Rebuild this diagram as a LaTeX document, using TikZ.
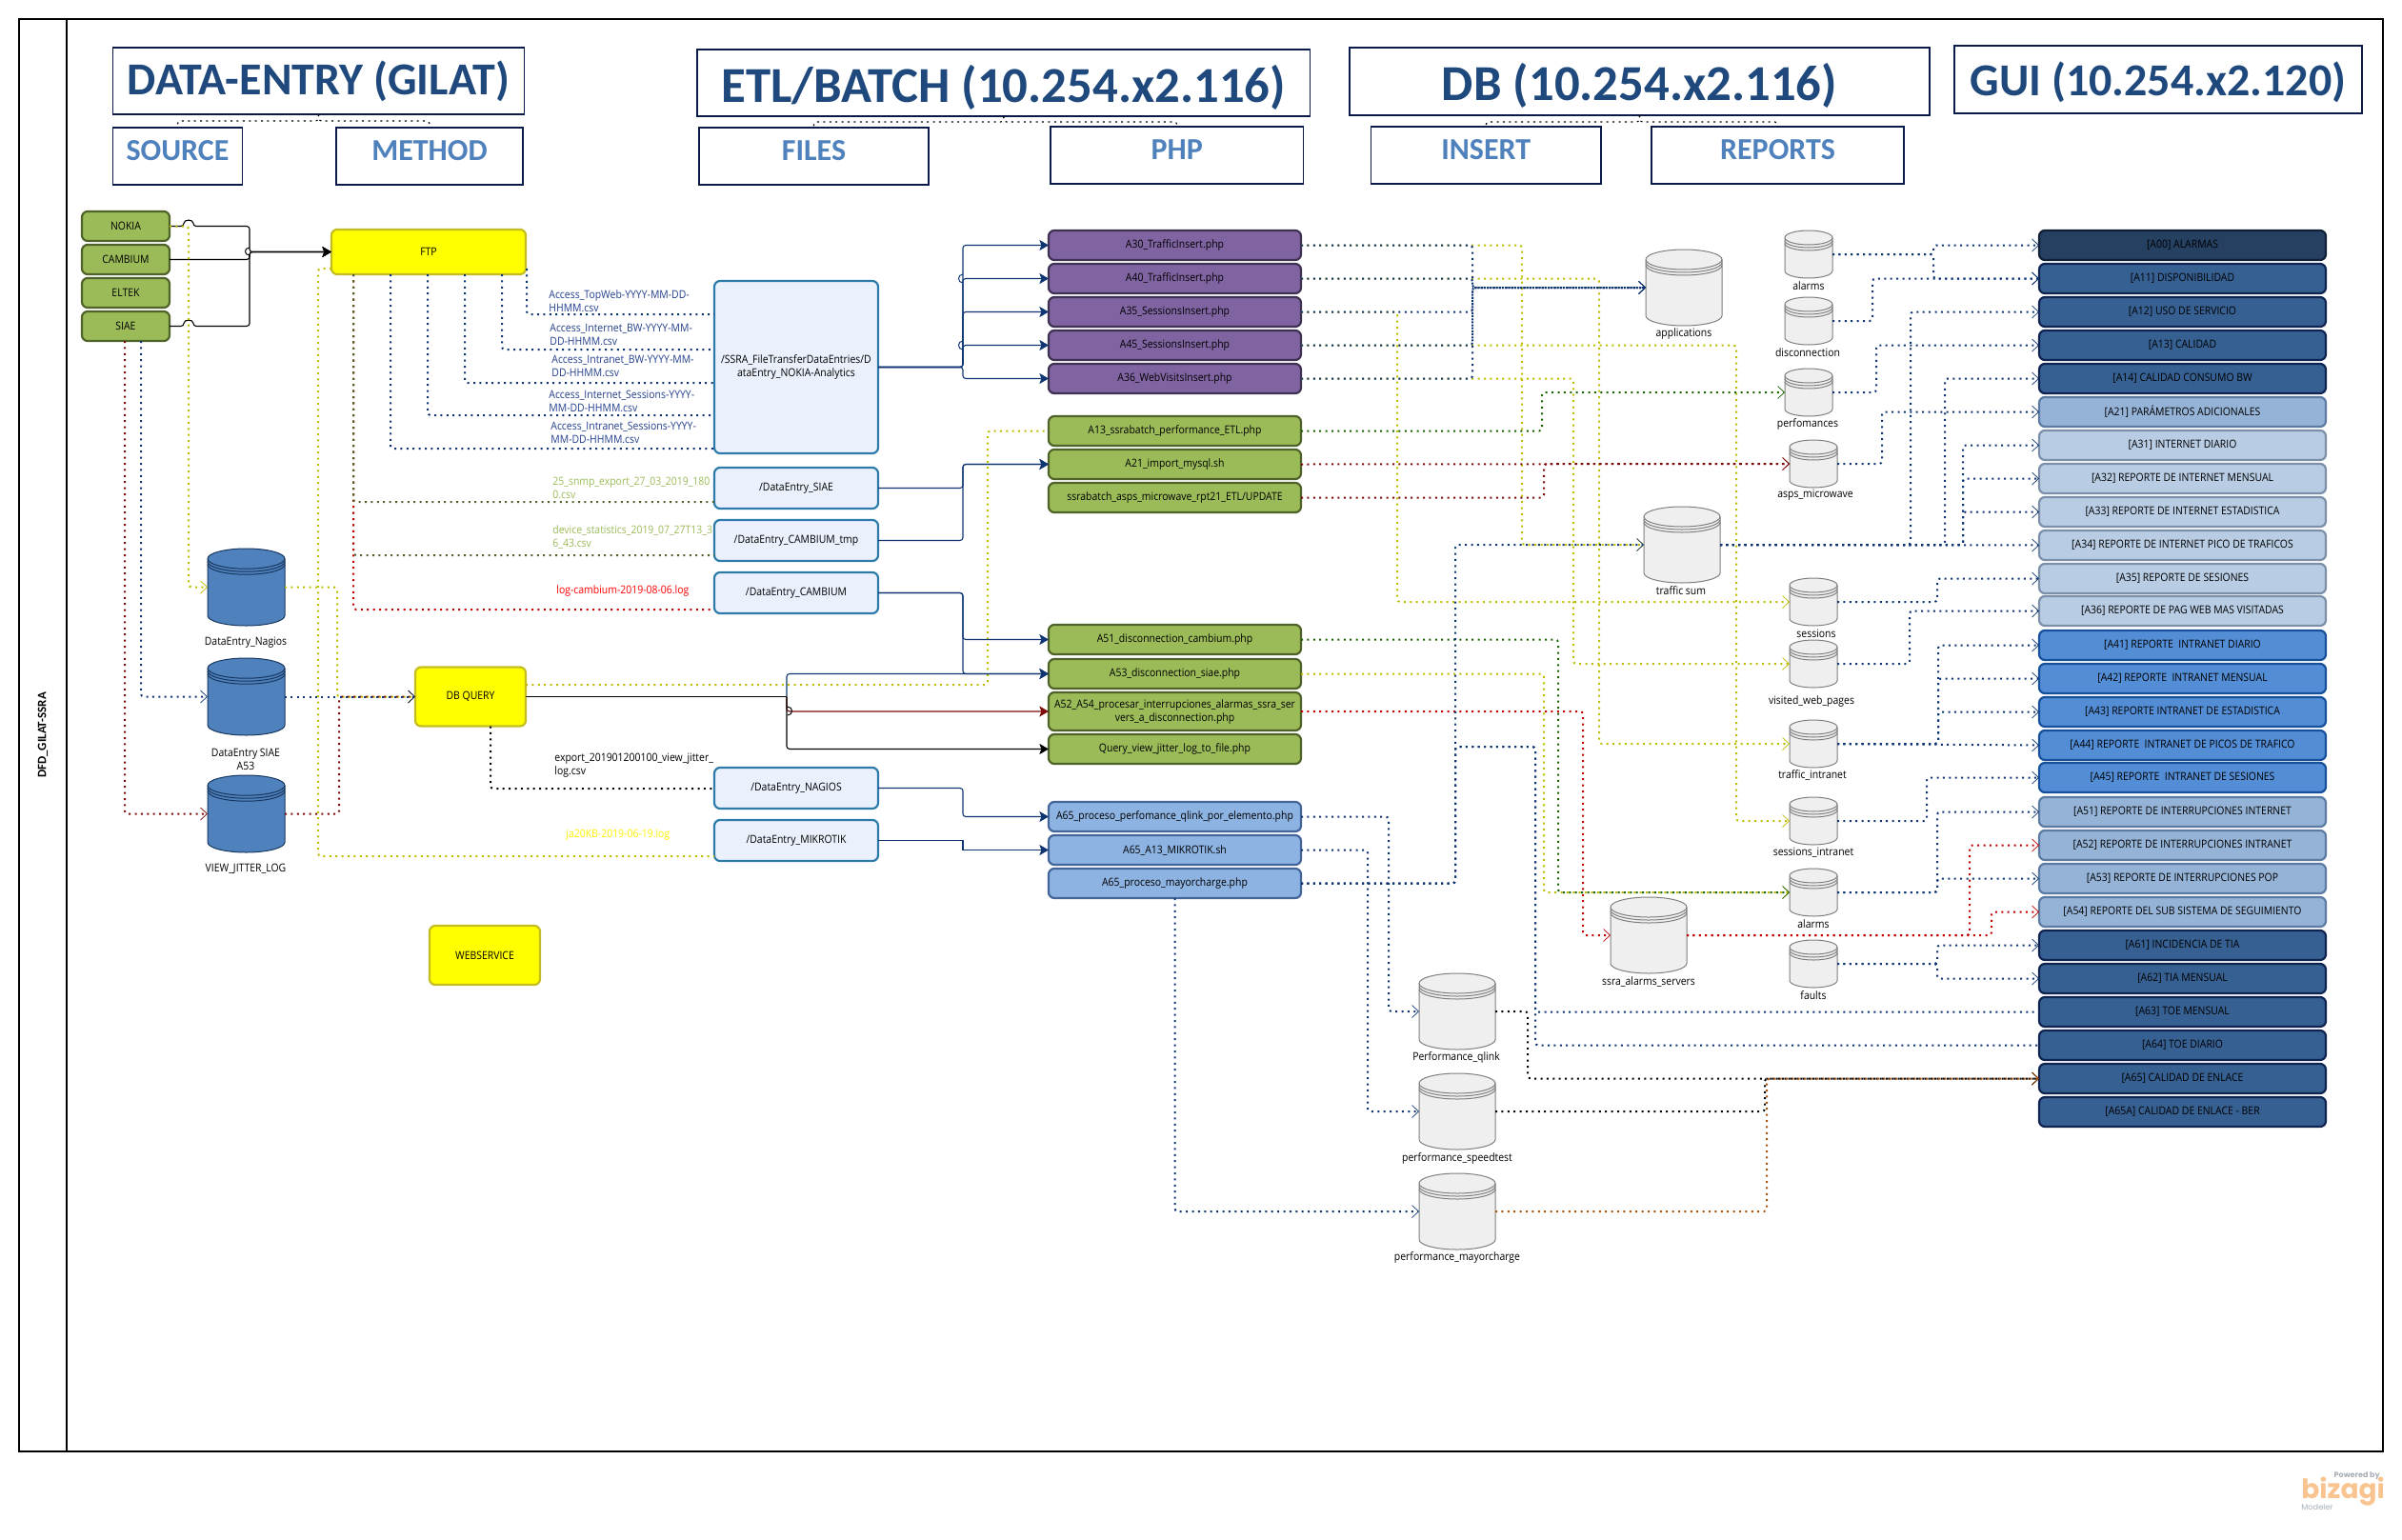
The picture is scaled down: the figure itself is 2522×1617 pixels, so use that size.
\documentclass[tikz,border=0pt]{standalone}
\usepackage{fontspec}
\usetikzlibrary{arrows.meta}
\setmainfont{Open Sans}
\newfontfamily\bfam[FakeStretch=0.9]{Open Sans}
\newfontfamily\hfam{Carlito}
\newfontfamily\lfam{Poppins}
\newcommand\bodyf{\bfam\fontsize{5.8}{7}\selectfont}
\definecolor{cG}{HTML}{9BBB59}\definecolor{cGd}{HTML}{4F6228}
\definecolor{cP}{HTML}{8064A2}\definecolor{cPd}{HTML}{3F3151}
\definecolor{cB}{HTML}{8DB3E2}\definecolor{cBd}{HTML}{44659A}
\definecolor{cFf}{HTML}{EBF0FD}\definecolor{cFd}{HTML}{2C7BA8}
\definecolor{cY}{HTML}{FFFF00}\definecolor{cYd}{HTML}{C4BD22}
\definecolor{cCyl}{HTML}{4F81BD}\definecolor{cCyld}{HTML}{17375E}
\definecolor{cGr}{HTML}{EFEFEF}\definecolor{cGrd}{HTML}{7F7F7F}
\definecolor{cNv}{HTML}{0F3672}\definecolor{cYl}{HTML}{BDBD00}
\definecolor{cDg}{HTML}{1A6100}\definecolor{cDr}{HTML}{7F0A0A}
\definecolor{cRd}{HTML}{C00000}\definecolor{cBr}{HTML}{A85208}
\definecolor{cOl}{HTML}{4F6228}
\definecolor{g0}{HTML}{254061}\definecolor{g0d}{HTML}{0F1F36}
\definecolor{g1}{HTML}{366092}\definecolor{g1d}{HTML}{0F2350}
\definecolor{g2}{HTML}{95B3D7}\definecolor{g2d}{HTML}{5C7BA3}
\definecolor{g3}{HTML}{B8CCE4}\definecolor{g3d}{HTML}{7B8FA8}
\definecolor{g4}{HTML}{538DD5}\definecolor{g4d}{HTML}{17509A}
\definecolor{cH}{HTML}{1F497D}\definecolor{cS}{HTML}{4F81BD}
\definecolor{cHd}{HTML}{0A1A4A}\definecolor{cTx}{HTML}{24408E}
\definecolor{cLo}{HTML}{F9C48F}\definecolor{cLg}{HTML}{A6AEB6}
\tikzset{
 basebox/.style={draw,rounded corners=3pt,line width=1.1pt,inner sep=0pt,outer sep=0pt,align=center,font=\bodyf,text=black},
 greenbox/.style={basebox,fill=cG,draw=cGd},
 purplebox/.style={basebox,fill=cP,draw=cPd},
 bluebox/.style={basebox,fill=cB,draw=cBd},
 filebox/.style={basebox,fill=cFf,draw=cFd},
 yellowbox/.style={basebox,fill=cY,draw=cYd},
 gzero/.style={basebox,fill=g0,draw=g0d},
 gone/.style={basebox,fill=g1,draw=g1d},
 gtwo/.style={basebox,fill=g2,draw=g2d},
 gthree/.style={basebox,fill=g3,draw=g3d},
 gfour/.style={basebox,fill=g4,draw=g4d},
 headbox/.style={draw=cHd,line width=.6pt,inner sep=0pt,outer sep=0pt,align=center,text=cH,font=\hfam\bfseries\fontsize{24}{26}\selectfont},
 bighead/.style={headbox,text height=24pt,font=\hfam\bfseries\fontsize{26.4}{28}\selectfont},
 subbox/.style={draw=cHd,line width=.6pt,inner sep=0pt,outer sep=0pt,align=center,text=cS,text depth=6pt,font=\hfam\bfseries\fontsize{16}{18}\selectfont},
 cylnode/.style={inner sep=0pt,outer sep=0pt},
 bluecyl/.style={fill=cCyl,draw=cCyld,line width=.5pt},
 graycyl/.style={fill=cGr,draw=cGrd,line width=.5pt},
 lbl/.style={font=\bodyf,align=center,inner sep=0pt},
 flbl/.style={font=\bodyf,align=left,anchor=west,inner sep=0pt},
 dotl/.style={line width=1pt,dash pattern=on 1pt off 2.2pt,rounded corners=1.5pt},
 dnv/.style={dotl,draw=cNv},
 dye/.style={dotl,draw=cYl},
 ddg/.style={dotl,draw=cDg},
 ddr/.style={dotl,draw=cDr},
 drd/.style={dotl,draw=cRd},
 dbk/.style={dotl,draw=black},
 dbr/.style={dotl,draw=cBr},
 dol/.style={dotl,draw=cOl},
 chev/.style={-{Straight Barb[length=3.5pt,width=6.5pt,line width=.35pt]}},
 solidnv/.style={draw=cNv,line width=.55pt,rounded corners=1.5pt},
 solidbk/.style={draw=black,line width=.55pt,rounded corners=1.5pt},
 solidrd/.style={draw=cDr,line width=.55pt,rounded corners=1.5pt},
 stl/.style={-{Stealth[length=4.8pt,width=5.5pt,inset=1pt]}},
 via/.style={to path={-- (#1,0 |- \tikztostart) -- (#1,0 |- \tikztotarget) \tikztonodes -- (\tikztotarget)}},
}
\newcommand\bx[7]{%
 \pgfmathsetmacro\bw{(#5-#3)*0.5}\pgfmathsetmacro\bh{(#6-#4)*0.5}%
 \pgfmathsetmacro\bcx{(#3+#5)/2}\pgfmathsetmacro\bcy{(#4+#6)/2}%
 \node[#2,minimum width=\bw pt,minimum height=\bh pt] (#1) at (\bcx,\bcy) {#7};}
\newcommand\cyl[9]{%
 \pgfmathsetmacro\cxx{(#3+#5)/2}\pgfmathsetmacro\cyy{(#4+#6)/2}%
 \pgfmathsetmacro\ryy{(#6-#4)*0.1+2.5}\pgfmathsetmacro\kxx{0.5523*(#5-#3)/2}%
 \pgfmathsetmacro\kyy{0.5523*\ryy}\pgfmathsetmacro\ytt{#4+\ryy}\pgfmathsetmacro\ybb{#6-\ryy}%
 \pgfmathsetmacro\bw{(#5-#3)*0.5}\pgfmathsetmacro\bh{(#6-#4)*0.5}%
 \node[cylnode,minimum width=\bw pt,minimum height=\bh pt] (#1) at (\cxx,\cyy) {};
 \draw[#2] (#3,\ytt) .. controls (#3,{\ytt-\kyy}) and ({\cxx-\kxx},#4) .. (\cxx,#4)
   .. controls ({\cxx+\kxx},#4) and (#5,{\ytt-\kyy}) .. (#5,\ytt) -- (#5,\ybb)
   .. controls (#5,{\ybb+\kyy}) and ({\cxx+\kxx},#6) .. (\cxx,#6)
   .. controls ({\cxx-\kxx},#6) and (#3,{\ybb+\kyy}) .. (#3,\ybb) -- cycle;
 \foreach \dd in {0,3,6}{
 \draw[#2,fill=none] (#3,{\ytt+\dd}) .. controls (#3,{\ytt+\dd+\kyy}) and ({\cxx-\kxx},{\ytt+\ryy+\dd}) .. (\cxx,{\ytt+\ryy+\dd})
   .. controls ({\cxx+\kxx},{\ytt+\ryy+\dd}) and (#5,{\ytt+\dd+\kyy}) .. (#5,{\ytt+\dd});}
 \node[lbl] (#1l) at (#7,#8) {#9};}
\begin{document}
\begin{tikzpicture}[x=0.5pt,y=-0.5pt]
\useasboundingbox (0,0) rectangle (2522,1617);
\fill[white] (0,0) rectangle (2522,1617);
% frame
\coordinate (fa) at (20,20); \coordinate (fb) at (2502,1524);
\draw[line width=.8pt] (fa) rectangle (fb);
\draw[line width=.8pt] (70,20) -- (70,1524);
\node[rotate=90,font=\hfam\bfseries\fontsize{6.5}{7}\selectfont,inner sep=0pt] (pool) at (45,772) {DFD\_GILAT-SSRA};
% headers
\bx{hDE}{headbox}{118.5}{50}{550.5}{120}{DATA-ENTRY (GILAT)}
\bx{hSO}{subbox}{118.5}{134}{254.5}{194}{SOURCE}
\bx{hME}{subbox}{353}{134}{549}{194}{METHOD}
\bx{hET}{bighead}{732}{52}{1375.5}{122}{ETL/BATCH (10.254.x2.116)}
\bx{hFI}{subbox}{734}{134}{975}{194}{FILES}
\bx{hPH}{subbox}{1103}{133}{1368.5}{193}{PHP}
\bx{hDB}{bighead}{1417}{50}{2026}{121}{DB (10.254.x2.116)}
\bx{hIN}{subbox}{1439.5}{133}{1681}{193}{INSERT}
\bx{hRE}{subbox}{1734}{133}{1999}{193}{REPORTS}
\bx{hGU}{headbox,text height=21pt}{2052}{48}{2480}{119}{GUI (10.254.x2.120)}
\foreach \hh in {hDE,hSO,hME,hET,hFI,hPH,hDB,hIN,hRE,hGU}{\draw[line width=.9pt,cHd] (\hh.north west) -- (\hh.north east);}
\draw[dbk,line width=.6pt] (hDE.south) -- (hDE.south |- 0,127) -- (hSO.north |- 0,127) -- (hSO.north);
\draw[dbk,line width=.6pt] (hDE.south) -- (hDE.south |- 0,127) -- (hME.north |- 0,127) -- (hME.north);
\draw[dbk,line width=.6pt] (hET.south) -- (hET.south |- 0,128) -- (hFI.north |- 0,128) -- (hFI.north);
\draw[dbk,line width=.6pt] (hET.south) -- (hET.south |- 0,128) -- (hPH.north |- 0,128) -- (hPH.north);
\draw[dbk,line width=.6pt] (hDB.south) -- (hDB.south |- 0,128) -- (hIN.north |- 0,128) -- (hIN.north);
\draw[dbk,line width=.6pt] (hDB.south) -- (hDB.south |- 0,128) -- (hRE.north |- 0,128) -- (hRE.north);
% sources
\bx{NOKIA}{greenbox}{86}{222}{178}{253}{NOKIA}
\bx{CAMB}{greenbox}{86}{257}{178}{288}{CAMBIUM}
\bx{ELTEK}{greenbox}{86}{292}{178}{323}{ELTEK}
\bx{SIAE}{greenbox}{86}{327}{178}{358}{SIAE}
\bx{FTP}{yellowbox}{348}{241}{552}{288}{FTP}
\bx{DBQ}{yellowbox}{436}{700.5}{552}{762.5}{DB QUERY}
\bx{WEB}{yellowbox}{451}{972}{567}{1034}{WEBSERVICE}
% files
\bx{fNOK}{filebox}{750}{295}{922}{476}{/SSRA\_FileTransferDataEntries/D\\ataEntry\_NOKIA-Analytics}
\bx{fSIA}{filebox}{750}{491}{922}{534}{/DataEntry\_SIAE}
\bx{fCTM}{filebox}{750}{546}{922}{589}{/DataEntry\_CAMBIUM\_tmp}
\bx{fCAM}{filebox}{750}{601}{922}{644}{/DataEntry\_CAMBIUM}
\bx{fNAG}{filebox}{750}{806}{922}{849}{/DataEntry\_NAGIOS}
\bx{fMIK}{filebox}{750}{861}{922}{904}{/DataEntry\_MIKROTIK}
% php
\bx{A30}{purplebox}{1101}{242}{1366}{273}{A30\_TrafficInsert.php}
\bx{A40}{purplebox}{1101}{277}{1366}{308}{A40\_TrafficInsert.php}
\bx{A35}{purplebox}{1101}{312}{1366}{343}{A35\_SessionsInsert.php}
\bx{A45}{purplebox}{1101}{347}{1366}{378}{A45\_SessionsInsert.php}
\bx{A36}{purplebox}{1101}{382}{1366}{413}{A36\_WebVisitsInsert.php}
\bx{A13}{greenbox}{1101}{437}{1366}{468}{A13\_ssrabatch\_performance\_ETL.php}
\bx{A21}{greenbox}{1101}{472}{1366}{503}{A21\_import\_mysql.sh}
\bx{ASP}{greenbox}{1101}{507}{1366}{538}{ssrabatch\_asps\_microwave\_rpt21\_ETL/UPDATE}
\bx{A51}{greenbox}{1101}{656}{1366}{687}{A51\_disconnection\_cambium.php}
\bx{A53}{greenbox}{1101}{692}{1366}{723}{A53\_disconnection\_siae.php}
\bx{A52}{greenbox}{1101}{727}{1366}{767}{A52\_A54\_procesar\_interrupciones\_alarmas\_ssra\_ser\\vers\_a\_disconnection.php}
\bx{QRY}{greenbox}{1101}{771}{1366}{802}{Query\_view\_jitter\_log\_to\_file.php}
\bx{A65q}{bluebox}{1101}{842}{1366}{873}{A65\_proceso\_perfomance\_qlink\_por\_elemento.php}
\bx{A65k}{bluebox}{1101}{877}{1366}{908}{A65\_A13\_MIKROTIK.sh}
\bx{A65m}{bluebox}{1101}{912}{1366}{943}{A65\_proceso\_mayorcharge.php}
% gui
\bx{G00}{gzero}{2141}{242}{2442}{273}{[A00] ALARMAS}
\bx{G11}{gone}{2141}{277}{2442}{308}{[A11] DISPONIBILIDAD}
\bx{G12}{gone}{2141}{312}{2442}{343}{[A12] USO DE SERVICIO}
\bx{G13}{gone}{2141}{347}{2442}{378}{[A13] CALIDAD}
\bx{G14}{gone}{2141}{382}{2442}{413}{[A14] CALIDAD CONSUMO BW}
\bx{G21}{gtwo}{2141}{417}{2442}{448}{[A21] PARÁMETROS ADICIONALES}
\bx{G31}{gthree}{2141}{452}{2442}{483}{[A31] INTERNET DIARIO}
\bx{G32}{gthree}{2141}{487}{2442}{518}{[A32] REPORTE DE INTERNET MENSUAL}
\bx{G33}{gthree}{2141}{522}{2442}{553}{[A33] REPORTE DE INTERNET ESTADISTICA}
\bx{G34}{gthree}{2141}{557}{2442}{588}{[A34] REPORTE DE INTERNET PICO DE TRAFICOS}
\bx{G35}{gthree}{2141}{592}{2442}{623}{[A35] REPORTE DE SESIONES}
\bx{G36}{gthree}{2141}{626}{2442}{657}{[A36] REPORTE DE PAG WEB MAS VISITADAS}
\bx{G41}{gfour}{2141}{662}{2442}{693}{[A41] REPORTE\ \ INTRANET DIARIO}
\bx{G42}{gfour}{2141}{697}{2442}{728}{[A42] REPORTE\ \ INTRANET MENSUAL}
\bx{G43}{gfour}{2141}{732}{2442}{763}{[A43] REPORTE INTRANET DE ESTADISTICA}
\bx{G44}{gfour}{2141}{767}{2442}{798}{[A44] REPORTE\ \ INTRANET DE PICOS DE TRAFICO}
\bx{G45}{gfour}{2141}{801}{2442}{832}{[A45] REPORTE\ \ INTRANET DE SESIONES}
\bx{G51}{gtwo}{2141}{837}{2442}{868}{[A51] REPORTE DE INTERRUPCIONES INTERNET}
\bx{G52}{gtwo}{2141}{872}{2442}{903}{[A52] REPORTE DE INTERRUPCIONES INTRANET}
\bx{G53}{gtwo}{2141}{907}{2442}{938}{[A53] REPORTE DE INTERRUPCIONES POP}
\bx{G54}{gtwo}{2141}{942}{2442}{973}{[A54] REPORTE DEL SUB SISTEMA DE SEGUIMIENTO}
\bx{G61}{gone}{2141}{977}{2442}{1008}{[A61] INCIDENCIA DE TIA}
\bx{G62}{gone}{2141}{1012}{2442}{1043}{[A62] TIA MENSUAL}
\bx{G63}{gone}{2141}{1047}{2442}{1078}{[A63] TOE MENSUAL}
\bx{G64}{gone}{2141}{1082}{2442}{1113}{[A64] TOE DIARIO}
\bx{G65}{gone}{2141}{1117}{2442}{1148}{[A65] CALIDAD DE ENLACE}
\bx{G65A}{gone}{2141}{1152}{2442}{1183}{[A65A] CALIDAD DE ENLACE - BER}
% cylinders
\cyl{cNag}{bluecyl}{218}{576}{299}{657}{258}{675}{DataEntry\_Nagios}
\cyl{cSia}{bluecyl}{218}{691}{299}{772}{258}{797}{DataEntry SIAE\\A53}
\cyl{cVie}{bluecyl}{218}{814}{299}{895}{258}{912}{VIEW\_JITTER\_LOG}
\cyl{app}{graycyl}{1728}{262}{1808}{342}{1768}{350}{applications}
\cyl{alm}{graycyl}{1874}{242}{1924}{292}{1899}{300}{alarms}
\cyl{dis}{graycyl}{1874}{312}{1924}{362}{1898}{370}{disconnection}
\cyl{per}{graycyl}{1874}{387}{1924}{437}{1898}{445}{perfomances}
\cyl{asp}{graycyl}{1879}{462}{1929}{512}{1906}{520}{asps\_microwave}
\cyl{tsum}{graycyl}{1726}{532}{1806}{612}{1765}{620}{traffic sum}
\cyl{ses}{graycyl}{1879}{607}{1929}{657}{1907}{665}{sessions}
\cyl{vis}{graycyl}{1879}{672}{1929}{722}{1902}{736}{visited\_web\_pages}
\cyl{tin}{graycyl}{1879}{756}{1929}{806}{1903}{814}{traffic\_intranet}
\cyl{sin}{graycyl}{1879}{837}{1929}{887}{1904}{895}{sessions\_intranet}
\cyl{al2}{graycyl}{1879}{912}{1929}{962}{1904}{970}{alarms}
\cyl{fau}{graycyl}{1879}{987}{1929}{1037}{1904}{1045}{faults}
\cyl{sal}{graycyl}{1691}{942}{1771}{1022}{1731}{1031}{ssra\_alarms\_servers}
\cyl{pql}{graycyl}{1490}{1022}{1570}{1102}{1529}{1110}{Performance\_qlink}
\cyl{psp}{graycyl}{1490}{1127}{1570}{1207}{1530}{1216}{performance\_speedtest}
\cyl{pma}{graycyl}{1490}{1232}{1570}{1312}{1530}{1320}{performance\_mayorcharge}
% edge texts
\node[flbl,text=cTx] (t1) at (576,316) {Access\_TopWeb-YYYY-MM-DD-\\HHMM.csv};
\node[flbl,text=cTx] (t2) at (577,351) {Access\_Internet\_BW-YYYY-MM-\\DD-HHMM.csv};
\node[flbl,text=cTx] (t3) at (579,384) {Access\_Intranet\_BW-YYYY-MM-\\DD-HHMM.csv};
\node[flbl,text=cTx] (t4) at (576,421) {Access\_Internet\_Sessions-YYYY-\\MM-DD-HHMM.csv};
\node[flbl,text=cTx] (t5) at (578,454) {Access\_Intranet\_Sessions-YYYY-\\MM-DD-HHMM.csv};
\node[flbl,text=cG] (t6) at (580,512) {25\_snmp\_export\_27\_03\_2019\_180\\0.csv};
\node[flbl,text=cG] (t7) at (580,564) {device\_statistics\_2019\_07\_27T13\_3\\6\_43.csv};
\node[flbl,text=red] (t8) at (584,620) {log-cambium-2019-08-06.log};
\node[flbl,text=black] (t9) at (582,804) {export\_201901200100\_view\_jitter\_\\log.csv};
\node[flbl,text=yellow] (t10) at (594,876) {ja20KB-2019-06-19.log};
% solid source connectors
\draw[solidbk,stl] (NOKIA.east) -- (193,237.5) .. controls (193,230) and (203,230) .. (203,237.5) -- (262,237.5) -- (262,264.5) -- (FTP.west);
\draw[solidbk,stl] (SIAE.east) -- (193,342.5) .. controls (193,335) and (203,335) .. (203,342.5) -- (262,342.5) -- (262,264.5) -- (FTP.west);
\draw[solidbk,stl] (CAMB.east) -- (262,272.5) -- (262,264.5) -- (FTP.west);
\draw[solidbk,line width=.5pt] (262,260) .. controls (256,260) and (256,268) .. (262,268);
% left dotted
\draw[dye,chev] (NOKIA.east) to[via=198] (cNag.west);
\draw[dnv,chev] (148,0 |- SIAE.south) -- (148,0 |- cSia.west) -- (cSia.west);
\draw[ddr,chev] (131,0 |- SIAE.south) -- (131,0 |- cVie.west) -- (cVie.west);
\draw[dye,chev] (cNag.east) to[via=354] (DBQ.west);
\draw[ddr,chev] (cVie.east) to[via=356] (DBQ.west);
\draw[dnv,chev] (cSia.east) -- (DBQ.west);
\draw[dye] (FTP.west |- 0,282) -- (334,282) -- (334,899) -- (fMIK.west |- 0,899);
\draw[dbk] (515,0 |- DBQ.south) -- (515,828) -- (fNAG.west |- 0,828);
% FTP to files
\draw[dnv] (553,282) -- (553,330) -- (fNOK.west |- 0,330);
\draw[dnv] (527,0 |- FTP.south) -- (527,367) -- (fNOK.west |- 0,367);
\draw[dnv] (488,0 |- FTP.south) -- (488,402) -- (fNOK.west |- 0,402);
\draw[dnv] (449,0 |- FTP.south) -- (449,436) -- (fNOK.west |- 0,436);
\draw[dnv] (410,0 |- FTP.south) -- (410,471) -- (fNOK.west |- 0,471);
\draw[dol] (371,0 |- FTP.south) -- (371,583) -- (fCTM.west |- 0,583);
\draw[drd] (371,0 |- FTP.south) -- (371,640) -- (fCAM.west |- 0,640);
\draw[dol] (371,0 |- FTP.south) -- (371,527) -- (fSIA.west |- 0,527);
% DB query right
\draw[dye] (DBQ.east |- 0,719) -- (1037,719) -- (1037,0 |- A13.west) -- (A13.west);
\draw[solidbk] (DBQ.east) -- (826,0 |- DBQ.east);
\draw[solidnv,stl] (826,0 |- DBQ.east) -- (826,0 |- A53.west) -- (A53.west);
\draw[solidrd,stl] (826,0 |- DBQ.east) -- (826,0 |- A52.west) -- (A52.west);
\draw[solidbk,stl] (826,0 |- DBQ.east) -- (826,0 |- QRY.west) -- (QRY.west);
\draw[solidbk,line width=.5pt] (827,742) .. controls (833,742) and (833,751) .. (827,751);
% files to php
\foreach \tt in {A30,A40,A35,A45,A36}{\draw[solidnv,stl] (fNOK.east) to[via=1011] (\tt.west);}
\draw[solidnv,line width=.5pt] (1011,297) .. controls (1005,297) and (1005,288) .. (1011,288);
\draw[solidnv,line width=.5pt] (1011,367) .. controls (1005,367) and (1005,358) .. (1011,358);
\draw[solidnv,stl] (fSIA.east) to[via=1011] (A21.west);
\draw[solidnv,stl] (fCTM.east) to[via=1011] (A21.west);
\draw[solidnv,stl] (fCAM.east) to[via=1011] (A51.west);
\draw[solidnv,stl] (fCAM.east) to[via=1011] (A53.west);
\draw[solidnv,stl] (fNAG.east) to[via=1011] (A65q.west);
\draw[solidnv,stl,rounded corners=0pt] (fMIK.east) to[via=1011] (A65k.west);
% php to db: yellow first
\draw[dye,chev] (A30.east) to[via=1598] (tsum.west);
\draw[dye,chev] (A40.east) to[via=1679] (tin.west);
\draw[dye,chev] (A35.east) to[via=1467] (ses.west);
\draw[dye,chev] (A45.east) to[via=1823] (sin.west);
\draw[dye,chev] (A36.east) to[via=1652] (vis.west);
\draw[dye,chev] (A53.east) to[via=1621] (al2.west);
\draw[dnv,chev] (A30.east) to[via=1546] (app.west);
\draw[dnv,chev] (A40.east) to[via=1546] (app.west);
\draw[dnv,chev] (A35.east) to[via=1546] (app.west);
\draw[dnv,chev] (A45.east) to[via=1546] (app.west);
\draw[dnv,chev] (A36.east) to[via=1546] (app.west);
\draw[ddg,chev] (A13.east) to[via=1619] (per.west);
\draw[ddr,chev] (A21.east) -- (asp.west);
\draw[ddr,chev] (ASP.east) to[via=1621] (asp.west);
\draw[ddg,chev] (A51.east) to[via=1636] (al2.west);
\draw[drd,chev] (A52.east) to[via=1662] (sal.west);
\draw[dnv,chev] (A65m.east) to[via=1528] (tsum.west);
\draw[dnv] (A65m.east) -- (1528,0 |- A65m.east) -- (1528,784) -- (1612,784) -- (1612,0 |- G63.west) -- (G63.west);
\draw[dnv] (A65m.east) -- (1528,0 |- A65m.east) -- (1528,784) -- (1612,784) -- (1612,0 |- G64.west) -- (G64.west);
\draw[dnv,chev] (A65q.east) to[via=1458] (pql.west);
\draw[dnv,chev] (A65k.east) to[via=1436] (psp.west);
\draw[dnv,chev] (A65m.south) -- (A65m.south |- pma.west) -- (pma.west);
% db to gui
\draw[dbk,chev] (pql.east) to[via=1604] (G65.west);
\draw[dbk,chev] (psp.east) to[via=1853] (G65.west);
\draw[dbr,chev] (pma.east) to[via=1855] (G65.west);
\draw[dnv,chev] (alm.east) to[via=2030] (G00.west);
\draw[dnv,chev] (alm.east) to[via=2030] (G11.west);
\draw[dnv,chev] (dis.east) to[via=1966] (G11.west);
\draw[dnv,chev] (per.east) to[via=1970] (G13.west);
\draw[dnv,chev] (asp.east) to[via=1976] (G21.west);
\draw[dnv,chev] (tsum.east) -- (G34.west);
\draw[dnv,chev] (tsum.east) to[via=2006] (G12.west);
\draw[dnv,chev] (tsum.east) to[via=2042] (G14.west);
\draw[dnv,chev] (tsum.east) to[via=2061] (G31.west);
\draw[dnv,chev] (tsum.east) to[via=2061] (G32.west);
\draw[dnv,chev] (tsum.east) to[via=2061] (G33.west);
\draw[dnv,chev] (ses.east) to[via=2034] (G35.west);
\draw[dnv,chev] (vis.east) to[via=2005] (G36.west);
\draw[dnv,chev] (tin.east) to[via=2035] (G41.west);
\draw[dnv,chev] (tin.east) to[via=2035] (G42.west);
\draw[dnv,chev] (tin.east) to[via=2035] (G43.west);
\draw[dnv,chev] (tin.east) -- (G44.west);
\draw[dnv,chev] (sin.east) to[via=2023] (G45.west);
\draw[dnv,chev] (al2.east) to[via=2034] (G51.west);
\draw[dnv,chev] (al2.east) to[via=2034] (G53.west);
\draw[drd,chev] (sal.east) to[via=2068] (G52.west);
\draw[drd,chev] (sal.east) to[via=2091] (G54.west);
\draw[dnv,chev] (fau.east) to[via=2034] (G61.west);
\draw[dnv,chev] (fau.east) to[via=2034] (G62.west);
% logo
\node[anchor=base east,inner sep=0pt,text=cLg,font=\lfam\bfseries\fontsize{4}{5}\selectfont] (pby) at (2499,1551) {Powered by};
\node[anchor=base west,inner sep=0pt,text=cLo,font=\lfam\bfseries\fontsize{14}{15}\selectfont] (biz) at (2416,1573) {bizagi};
\node[anchor=base west,inner sep=0pt,text=cLg,font=\lfam\fontsize{4.1}{5}\selectfont] (mdl) at (2416,1585) {Modeler};
\end{tikzpicture}
\end{document}
